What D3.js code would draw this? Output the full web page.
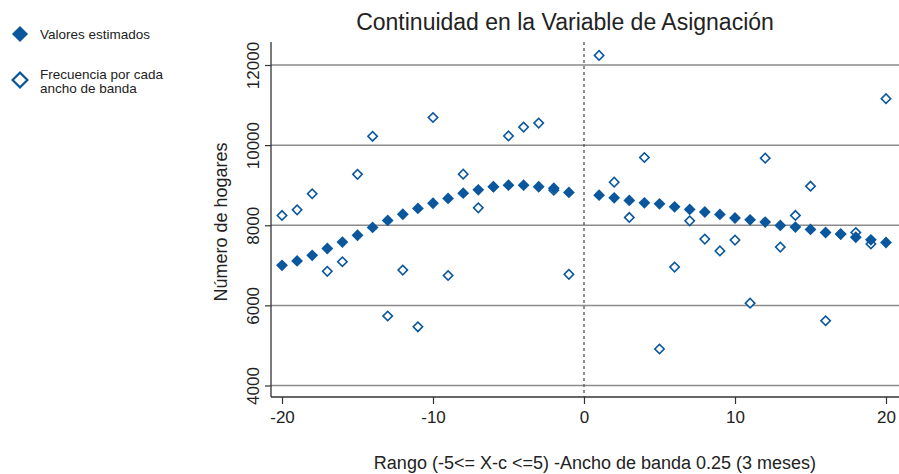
<!DOCTYPE html>
<html>
<head>
<meta charset="utf-8">
<script src="https://cdn.jsdelivr.net/npm/d3@7"></script>
<style>
  body { margin: 0; background: #fff; }
  svg text { font-family: "Liberation Sans Narrow", "Liberation Sans", sans-serif; fill: #222; }
</style>
</head>
<body>
<svg id="chart"></svg>
<script>
// bins (months from cutoff), the cutoff itself is skipped
var bins = [-20,-19,-18,-17,-16,-15,-14,-13,-12,-11,-10,-9,-8,-7,-6,-5,-4,-3,-2,-1,
            1,2,3,4,5,6,7,8,9,10,11,12,13,14,15,16,17,18,19,20];

var estimados = [7000,7110,7250,7420,7580,7750,7945,8120,8275,8420,8550,8670,8800,8885,8960,9000,9000,8960,8925,8820,
                 8750,8685,8620,8560,8535,8460,8395,8330,8270,8180,8135,8080,7995,7955,7895,7820,7780,7700,7635,7570];

var frecuencia = [8245,8385,8785,6850,7090,9270,10220,5735,6880,5465,10690,6745,9275,8435,8960,10230,10450,10550,8875,6775,
                  12240,9075,8195,9690,4910,6955,8110,7655,7360,7630,6055,9675,7455,8245,8975,5615,7780,7820,7535,11160];

var yTicks = [4000,6000,8000,10000,12000];
var xTicks = [-20,-10,0,10,20];

var W = 899, H = 474;
var blue = "#0b579e";

var svg = d3.select("#chart").attr("width", W).attr("height", H);

var x = d3.scaleLinear().domain([-20,20]).range([282,886]);
var y = d3.scaleLinear().domain([4000,12000]).range([385.5,65]);

// plot frame (window.top is reserved, so plotTop)
var plotLeft = 271, plotRight = 899, plotTop = 42, plotBottom = 397;

// grid lines
svg.append("g").selectAll("line")
  .data(yTicks)
  .enter().append("line")
  .attr("x1", plotLeft).attr("x2", plotRight)
  .attr("y1", function(d){ return y(d); })
  .attr("y2", function(d){ return y(d); })
  .attr("stroke", "#8a8a8a")
  .attr("stroke-width", 1.5);

// cutoff
svg.append("line")
  .attr("x1", x(0)).attr("x2", x(0))
  .attr("y1", plotTop).attr("y2", plotBottom)
  .attr("stroke", "#555")
  .attr("stroke-width", 1.3)
  .attr("stroke-dasharray", "3,3");

// axes
var yAxis = svg.append("g")
  .attr("transform", "translate(" + plotLeft + ",0)")
  .call(d3.axisLeft(y).tickValues(yTicks).tickSize(6).tickFormat(function(d){ return String(d); }));
yAxis.select(".domain").remove();
yAxis.selectAll(".tick line").attr("stroke", "#333").attr("stroke-width", 1.2);
yAxis.selectAll(".tick text")
  .attr("transform", "rotate(-90)")
  .attr("x", 0).attr("y", -12)
  .attr("dy", 0)
  .attr("text-anchor", "middle")
  .style("font-size", "17px");

var xAxis = svg.append("g")
  .attr("transform", "translate(0," + plotBottom + ")")
  .call(d3.axisBottom(x).tickValues(xTicks).tickSize(7).tickFormat(function(d){ return String(d); }));
xAxis.select(".domain").remove();
xAxis.selectAll(".tick line").attr("stroke", "#333").attr("stroke-width", 1.2);
xAxis.selectAll(".tick text").attr("y", 11).attr("dy", "0.9em").style("font-size", "17px");

svg.append("line").attr("x1", plotLeft).attr("x2", plotLeft).attr("y1", plotTop).attr("y2", plotBottom)
  .attr("stroke", "#333").attr("stroke-width", 1.3);
svg.append("line").attr("x1", plotLeft).attr("x2", plotRight).attr("y1", plotBottom).attr("y2", plotBottom)
  .attr("stroke", "#333").attr("stroke-width", 1.3);

// markers
var filled = d3.symbol().type(d3.symbolSquare).size(70);
var hollow = d3.symbol().type(d3.symbolSquare).size(44);

svg.append("g").selectAll("path")
  .data(bins)
  .enter().append("path")
  .attr("d", hollow)
  .attr("transform", function(d, i){ return "translate(" + x(d) + "," + y(frecuencia[i]) + ") rotate(45)"; })
  .attr("fill", "#fff")
  .attr("stroke", blue)
  .attr("stroke-width", 1.6);

svg.append("g").selectAll("path")
  .data(bins)
  .enter().append("path")
  .attr("d", filled)
  .attr("transform", function(d, i){ return "translate(" + x(d) + "," + y(estimados[i]) + ") rotate(45)"; })
  .attr("fill", blue);

// titles
svg.append("text")
  .attr("x", 565).attr("y", 30)
  .attr("text-anchor", "middle")
  .style("font-size", "23px")
  .text("Continuidad en la Variable de Asignación");

svg.append("text")
  .attr("x", 595).attr("y", 469)
  .attr("text-anchor", "middle")
  .style("font-size", "18px")
  .text("Rango (-5<= X-c <=5) -Ancho de banda 0.25 (3 meses)");

svg.append("text")
  .attr("transform", "translate(227,222) rotate(-90)")
  .attr("text-anchor", "middle")
  .style("font-size", "18px")
  .text("Número de hogares");

// legend
var leg = svg.append("g");
leg.append("path")
  .attr("d", d3.symbol().type(d3.symbolSquare).size(130))
  .attr("transform", "translate(20,34) rotate(45)")
  .attr("fill", blue);
leg.append("text").attr("x", 40).attr("y", 39).style("font-size", "13.5px").text("Valores estimados");
leg.append("path")
  .attr("d", d3.symbol().type(d3.symbolSquare).size(110))
  .attr("transform", "translate(20,80) rotate(45)")
  .attr("fill", "#fff")
  .attr("stroke", blue)
  .attr("stroke-width", 2.2);
leg.append("text").attr("x", 40).attr("y", 79).style("font-size", "13.5px").text("Frecuencia por cada");
leg.append("text").attr("x", 40).attr("y", 93).style("font-size", "13.5px").text("ancho de banda");
</script>
</body>
</html>
